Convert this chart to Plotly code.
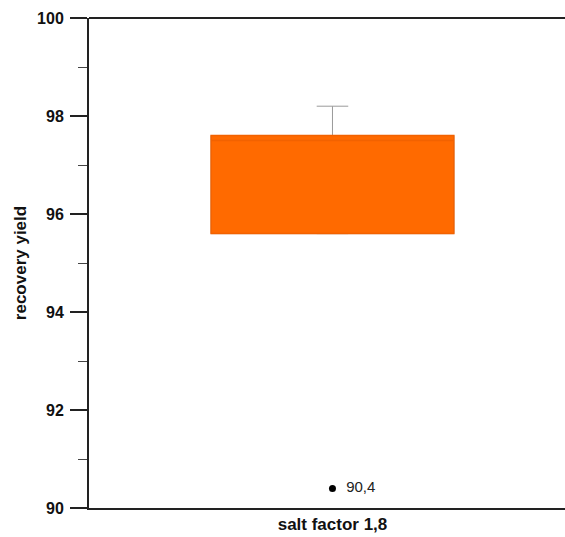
import plotly.graph_objects as go

category = ["salt factor 1,8"]
q1 = [95.6]
median = [97.5]
q3 = [97.6]
lower_whisker = [95.6]
upper_whisker = [98.2]
outliers = [90.4]
outlier_labels = ["90,4"]
y_ticks = [90, 92, 94, 96, 98, 100]

x_pos = [0]
FONT = "Liberation Sans, Arial, sans-serif"

fig = go.Figure()
# whisker (grey) layer
fig.add_trace(go.Box(
    x=x_pos, q1=q1, median=median, q3=q3,
    lowerfence=lower_whisker, upperfence=upper_whisker,
    width=0.51, whiskerwidth=0.13,
    line=dict(color="#9a9a9a", width=1),
    fillcolor="rgba(0,0,0,0)", boxpoints=False, hoverinfo="skip",
))
# orange box layer
fig.add_trace(go.Box(
    x=x_pos, q1=q1, median=median, q3=q3,
    lowerfence=q1, upperfence=q3,
    width=0.51, whiskerwidth=0,
    line=dict(color="#F26200", width=1.5),
    fillcolor="#FF6A00", boxpoints=False,
))
fig.add_trace(go.Scatter(
    x=x_pos * len(outliers), y=outliers, mode="markers+text",
    marker=dict(color="black", size=7),
    text=["  " + t for t in outlier_labels], textposition="middle right",
    textfont=dict(family=FONT, size=15, color="#222"),
))

fig.update_layout(
    width=565, height=537,
    margin=dict(l=89, r=0, t=18, b=29),
    paper_bgcolor="white", plot_bgcolor="white",
    showlegend=False, boxmode="overlay",
    font=dict(family=FONT, color="#111"),
    shapes=[dict(type="line", xref="paper", yref="paper", x0=0, x1=1.02, y0=1, y1=1,
                 line=dict(color="#222", width=2))],
)
fig.update_xaxes(
    range=[-0.5115, 0.4885], tickvals=x_pos,
    ticktext=["<b>" + c + "</b>" for c in category],
    ticks="", showgrid=False, zeroline=False,
    showline=True, linecolor="#222", linewidth=2,
    tickfont=dict(size=17), fixedrange=True,
)
fig.update_yaxes(
    range=[90, 100], tickvals=y_ticks,
    ticktext=["<b>%d</b>" % v for v in y_ticks],
    ticks="outside", ticklen=17, tickwidth=1.5, tickcolor="#222",
    minor=dict(dtick=1, ticks="outside", ticklen=9, tickwidth=1, tickcolor="#444", showgrid=False),
    showgrid=False, zeroline=False,
    showline=True, linecolor="#222", linewidth=2,
    tickfont=dict(size=16), ticklabelstandoff=3,
    title=dict(text="<b>recovery yield</b>", font=dict(size=17), standoff=6),
)

fig.write_html("out.html")
